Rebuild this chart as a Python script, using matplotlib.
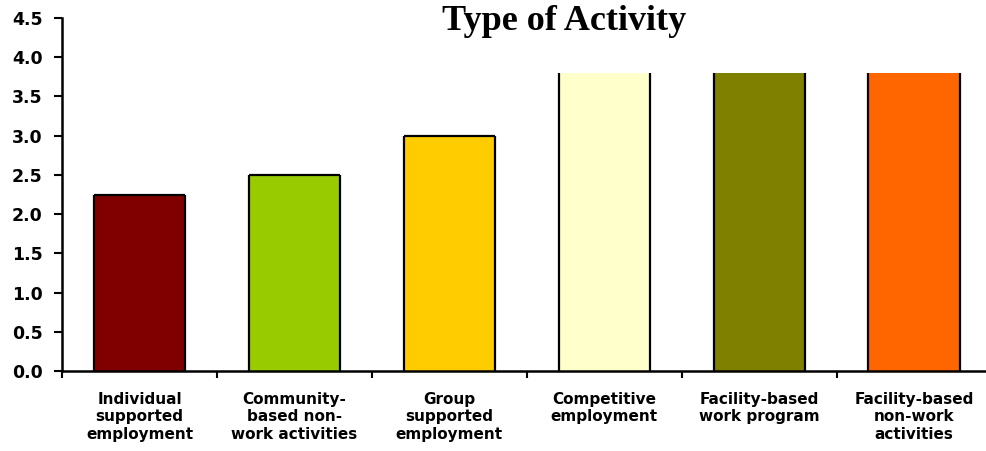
import numpy as np
import matplotlib
matplotlib.use("Agg")
import matplotlib.pyplot as plt

categories = ["Individual\nsupported\nemployment",
              "Community-\nbased non-\nwork activities",
              "Group\nsupported\nemployment",
              "Competitive\nemployment",
              "Facility-based\nwork program",
              "Facility-based\nnon-work\nactivities"]
values = [2.25, 2.5, 3.0, 3.8, 3.8, 3.8]
clipped = [False, False, False, True, True, True]
colors = ["#800000", "#99CC00", "#FFCC00", "#FFFFCC", "#808000", "#FF6600"]
yticks = [0.0, 0.5, 1.0, 1.5, 2.0, 2.5, 3.0, 3.5, 4.0, 4.5]

fig = plt.figure(figsize=(9.87, 4.51), dpi=100)
ax = fig.add_axes([62 / 987, 1 - 371 / 451, 1 - 62 / 987, 353 / 451])

x = np.arange(len(values))
w = 0.59
ax.bar(x, values, width=w, color=colors, linewidth=0, zorder=2)
# bar outlines (the tall bars run off the top, so no top edge)
ax.vlines(x - w / 2, 0, values, color="black", lw=1.6, zorder=3)
ax.vlines(x + w / 2, 0, values, color="black", lw=1.6, zorder=3)
for xi, v, c in zip(x, values, clipped):
    if not c:
        ax.hlines(v, xi - w / 2, xi + w / 2, color="black", lw=1.6, zorder=3)

ax.set_ylim(0, 4.5)
ax.set_xlim(-0.5, 5.47)
ax.set_yticks(yticks)
ax.set_yticklabels(["%.1f" % t for t in yticks], fontfamily="DejaVu Sans",
                   fontweight="bold", fontsize=12.5)
ax.set_xticks(x)
ax.set_xticklabels(categories, fontfamily="DejaVu Sans", fontweight="bold",
                   fontsize=11, linespacing=1.22)
ax.set_xticks(np.arange(-0.5, 5.5, 1.0), minor=True)
ax.tick_params(axis="x", which="major", length=0, pad=15)
ax.tick_params(axis="x", which="minor", length=5, width=1.5)
ax.tick_params(axis="y", length=6, width=1.5, pad=8)

for s in ["top", "right"]:
    ax.spines[s].set_visible(False)
for s in ["left", "bottom"]:
    ax.spines[s].set_linewidth(1.8)

fig.text(564 / 987, 1 - 22 / 451, "Type of Activity", fontfamily="Liberation Serif",
         fontweight="bold", fontsize=26, ha="center", va="center")

fig.savefig("out.png", dpi=100)
